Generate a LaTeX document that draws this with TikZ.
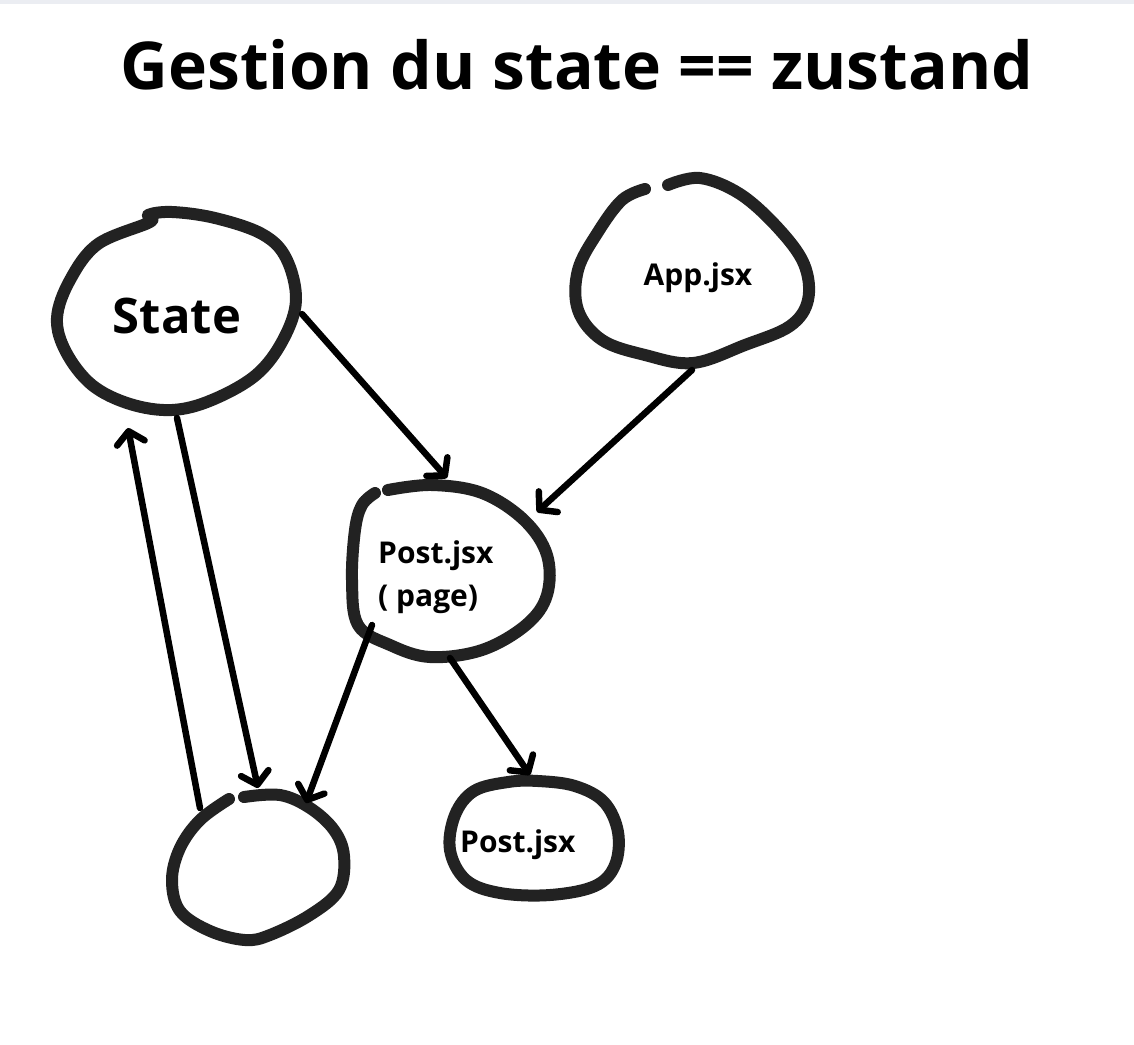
\documentclass[tikz,border=0pt]{standalone}
\usepackage{fontspec}
\setmainfont{Open Sans}
\usetikzlibrary{arrows.meta}
\definecolor{inkgray}{HTML}{222222}
\definecolor{topband}{HTML}{EBEDF2}

\begin{document}
\begin{tikzpicture}[x=1pt, y=-1pt,
    blob/.style={draw=inkgray, line width=12pt, line cap=round, line join=round},
    flow/.style={draw=black, line width=6.5pt, line cap=round,
      -{Straight Barb[length=12pt, width=28pt, line width=6.5pt, round]}},
    label/.style={font=\bfseries\fontsize{30}{36}\selectfont, inner sep=0pt}]
  % canvas
  \useasboundingbox (0,0) rectangle (1134,1044);
  \fill[white] (0,0) rectangle (1134,1044);
  \fill[topband] (0,0) rectangle (1134,4);

  % Title
  \node[anchor=base, inner sep=0pt, font=\bfseries\fontsize{66}{70}\selectfont] (title) at (577,89) {Gestion du state == zustand};

  % Blobs (hand drawn circles)
  % State
  \draw[blob] plot[smooth cycle, tension=0.6] coordinates {
    (150,222) (148,215) (172,212) (215,218) (262,234) (286,258) (296,300)
    (283,340) (256,375) (212,400) (172,410) (130,404) (92,385) (66,352)
    (57,318) (70,280) (98,244)};
  % App.jsx (open at the top)
  \draw[blob] plot[smooth, tension=0.6] coordinates {
    (668,185) (700,178) (740,194) (778,228) (804,264) (808,300) (790,326)
    (745,345) (693,363) (645,355) (602,340) (578,310) (578,270) (598,232)
    (622,200) (645,189)};
  % Post.jsx ( page)
  \draw[blob] plot[smooth, tension=0.6] coordinates {
    (388,490) (432,485) (482,493) (524,520) (547,555) (547,595) (526,625)
    (482,650) (430,657) (390,645) (358,625) (352,580) (355,530) (362,505)
    (375,493)};
  % empty blob, bottom left
  \draw[blob] plot[smooth, tension=0.6] coordinates {
    (244,797) (280,795) (310,808) (334,830) (344,856) (339,890) (310,915)
    (270,935) (245,940) (210,931) (180,911) (172,880) (180,848) (200,820)
    (229,799)};
  % Post.jsx, bottom right
  \draw[blob] plot[smooth cycle, tension=0.6] coordinates {
    (538,781) (575,786) (604,802) (618,832) (615,865) (595,886) (550,895)
    (500,893) (466,880) (450,850) (455,815) (474,791) (508,782)};

  % Labels
  \node[anchor=base, inner sep=0pt, font=\bfseries\fontsize{49}{54}\selectfont] (state) at (177,333) {State};
  \node[label, anchor=base] (app) at (698,285) {App.jsx};
  \node[label, anchor=base west] (page) at (378,563) {Post.jsx};
  \node[label, anchor=base west] (pagesub) at (378,606) {( page)};
  \node[label, anchor=base west] (post) at (460,852) {Post.jsx};

  % Connector ends
  \coordinate (state-se) at (302,314);
  \coordinate (state-s) at (177,418);
  \coordinate (state-in) at (128,428);
  \coordinate (app-s) at (692,370);
  \coordinate (page-n) at (447,478);
  \coordinate (page-ne) at (537,512);
  \coordinate (page-sw) at (372,625);
  \coordinate (page-s) at (450,658);
  \coordinate (empty-n) at (258,788);
  \coordinate (empty-ne) at (306,803);
  \coordinate (empty-nw) at (200,808);
  \coordinate (post-n) at (530,775);

  % Arrows
  \draw[flow] (state-se) -- (page-n);
  \draw[flow] (app-s) -- (page-ne);
  \draw[flow] (state-s) -- (empty-n);
  \draw[flow] (page-sw) -- (empty-ne);
  \draw[flow] (page-s) -- (post-n);
  \draw[flow] (empty-nw) -- (state-in);
\end{tikzpicture}
\end{document}
